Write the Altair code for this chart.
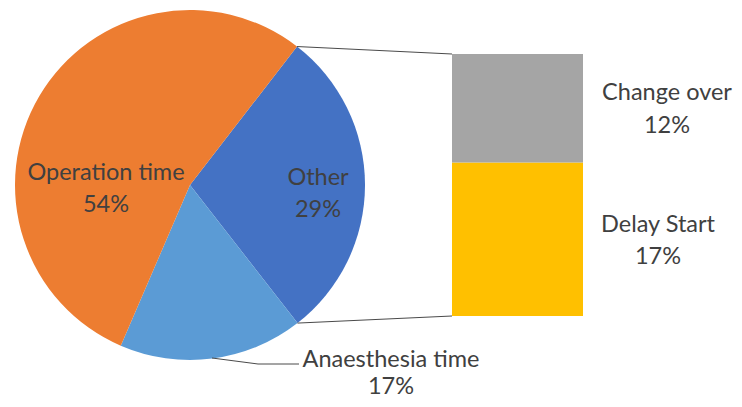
import math
import altair as alt
import pandas as pd

# ---- data ----
pie_categories = ["Other", "Anaesthesia time", "Operation time"]
pie_values = [29, 17, 54]
pie_colors = ["#4472C4", "#5B9BD5", "#ED7D31"]

bar_categories = ["Delay Start", "Change over"]
bar_values = [17, 12]
bar_colors = ["#FFC000", "#A5A5A5"]

pie_df = pd.DataFrame({
    "category": pie_categories,
    "value": pie_values,
    "order": list(range(len(pie_categories))),
    "label": [f"{c}\n{v}%" for c, v in zip(pie_categories, pie_values)],
})
bar_df = pd.DataFrame({
    "category": bar_categories,
    "value": bar_values,
    "label": [f"{c}\n{v}%" for c, v in zip(bar_categories, bar_values)],
})
bar_df["end"] = bar_df["value"].cumsum()
bar_df["start"] = bar_df["end"] - bar_df["value"]

# ---- layout (chart pixel space) ----
W, H = 726, 391
CX, CY, R = 182, 177, 175
START = math.radians(37.7)
BAR_X0, BAR_X1 = 444, 575
BAR_TOP, BAR_BOTTOM = 46, 308
FONT = "Lato"
FS = 23.5
TXT = "#404040"

total = sum(pie_values)
other_frac = pie_values[0] / total
a0 = START
a1 = START + 2 * math.pi * other_frac
p0 = (CX + R * math.sin(a0), CY - R * math.cos(a0))
p1 = (CX + R * math.sin(a1), CY - R * math.cos(a1))

pie = alt.Chart(pie_df).mark_arc(radius=R).encode(
    x=alt.value(CX), y=alt.value(CY),
    theta=alt.Theta("value:Q", stack=True,
                    scale=alt.Scale(range=[START, START + 2 * math.pi])),
    order=alt.Order("order:Q"),
    color=alt.Color("category:N", scale=alt.Scale(domain=pie_categories, range=pie_colors), legend=None),
)

bar = alt.Chart(bar_df).mark_bar().encode(
    x=alt.value(BAR_X0), x2=alt.value(BAR_X1),
    y=alt.Y("end:Q", axis=None,
            scale=alt.Scale(domain=[0, sum(bar_values)], range=[BAR_BOTTOM, BAR_TOP], nice=False, zero=True)),
    y2="start:Q",
    color=alt.Color("category:N", scale=alt.Scale(domain=bar_categories, range=bar_colors), legend=None),
)

line_df = pd.DataFrame({"k": [0]})
def rule(xa, ya, xb, yb):
    return alt.Chart(line_df).mark_rule(color="#4a4a4a", strokeWidth=1).encode(
        x=alt.value(xa), y=alt.value(ya), x2=alt.value(xb), y2=alt.value(yb))

rules = [
    rule(204, 350, 250, 356),
    rule(250, 356, 291, 356),
    rule(p0[0], p0[1], BAR_X0, BAR_TOP),
    rule(p1[0], p1[1], BAR_X0, BAR_BOTTOM),
]

# position of the first line of each label, and line spacing
label_pos = {
    "Operation time": (98, 165, 32),
    "Other": (310, 170, 32),
    "Anaesthesia time": (383, 352, 27),
    "Delay Start": (650, 217, 32),
    "Change over": (659, 85, 33),
}

texts = []
for df in (pie_df, bar_df):
    for cat in df["category"]:
        x, y, lh = label_pos[cat]
        texts.append(
            alt.Chart(df[df["category"] == cat][["category", "label"]]).mark_text(
                font=FONT, fontSize=FS, color=TXT, lineBreak="\n", lineHeight=lh,
                align="center", baseline="middle",
            ).encode(x=alt.value(x), y=alt.value(y), text="label:N")
        )

chart = alt.layer(pie, bar, *rules, *texts).resolve_scale(color="independent").properties(
    width=W, height=H, padding=0, autosize=alt.AutoSizeParams(type="none"),
    background="white",
).configure_view(stroke=None)

chart.save("out.html", embed_options={"renderer": "svg", "actions": False})
